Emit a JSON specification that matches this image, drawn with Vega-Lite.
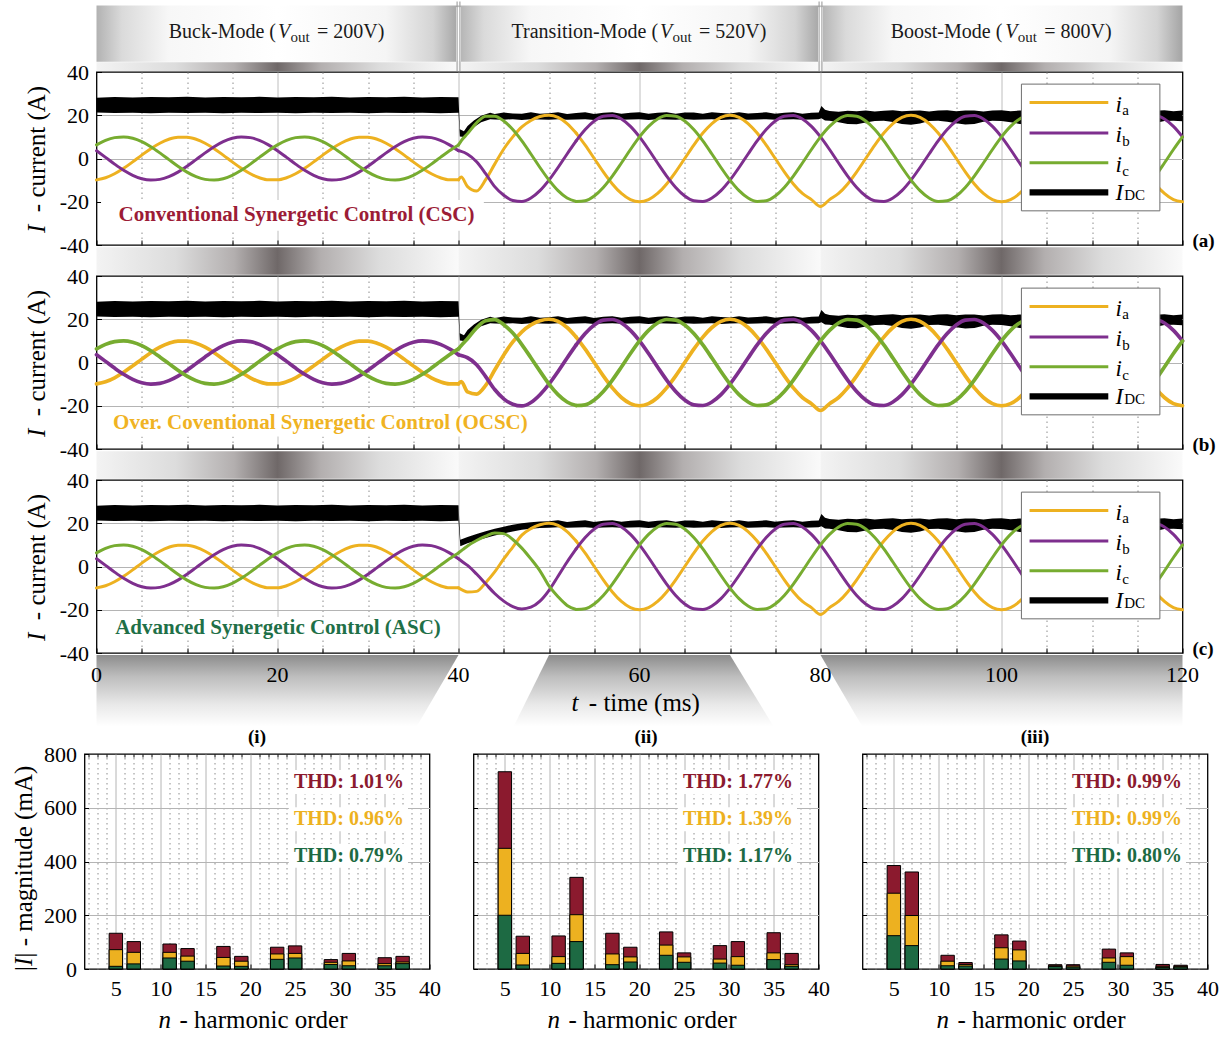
{
  "$schema": "https://vega.github.io/schema/vega-lite/v6.json",
  "background": "white",
  "padding": {"left": 11.5, "top": 0, "right": 0, "bottom": 0},
  "spacing": 0,
  "config": {
    "font": "Liberation Serif",
    "view": {"stroke": "#000", "strokeWidth": 1.3},
    "axis": {"labelFont": "Liberation Serif", "labelFontSize": 22, "labelColor": "#000", "tickColor": "#000", "tickWidth": 1, "labelFlush": false, "labelOverlap": false, "gridWidth": 1},
    "text": {"font": "Liberation Serif", "color": "#000"}
  },
  "datasets": {
    "one": [{}],
    "segs": [{"t0": 0, "t1": 40}, {"t0": 40, "t1": 80}, {"t0": 80, "t1": 120}],
    "cuts": [{"t": 40}, {"t": 80}],
    "xt": [{"t": 0}, {"t": 20}, {"t": 40}, {"t": 60}, {"t": 80}, {"t": 100}, {"t": 120}],
    "hdr": [
      {"pre": "Buck-Mode (", "suf": "= 200V)", "xp": 19.83, "xv": 20.06, "xs": 21.44, "xq": 24.36},
      {"pre": "Transition-Mode (", "suf": "= 520V)", "xp": 62.05, "xv": 62.27, "xs": 63.65, "xq": 66.57},
      {"pre": "Boost-Mode (", "suf": "= 800V)", "xp": 100.09, "xv": 100.42, "xs": 101.8, "xq": 104.73}
    ],
    "leg": [
      {"s": "a", "y": 25.9, "m": "i", "my": 21.5, "sub": "a", "sx": 113.35, "sy": 19.9},
      {"s": "b", "y": 11.8, "m": "i", "my": 7.4, "sub": "b", "sx": 113.35, "sy": 5.8},
      {"s": "c", "y": -2.0, "m": "i", "my": -6.4, "sub": "c", "sx": 113.35, "sy": -8.0},
      {"s": "DC", "y": -15.7, "m": "I", "my": -19.0, "sub": "DC", "sx": 113.55, "sy": -19.4}
    ],
    "zoomPoly": [
      {"g": 1, "y": -40.9, "x0": 0, "x1": 40}, {"g": 1, "y": -73.9, "x0": 0, "x1": 35.4},
      {"g": 2, "y": -40.9, "x0": 50, "x1": 70}, {"g": 2, "y": -73.9, "x0": 46.1, "x1": 74.8},
      {"g": 3, "y": -40.9, "x0": 80, "x1": 120}, {"g": 3, "y": -73.9, "x0": 84.6, "x1": 120}
    ],
    "base": [
      {"t":0,"a":-9.88,"b":3.58,"c":6.29,"g":"buck"},{"t":1,"a":-8.91,"b":0.52,"c":8.39,"g":"buck"},{"t":2,"a":-7.07,"b":-2.59,"c":9.66,"g":"buck"},{"t":3,"a":-4.54,"b":-5.45,"c":9.99,"g":"buck"},{"t":4,"a":-1.56,"b":-7.77,"c":9.34,"g":"buck"},
      {"t":5,"a":1.56,"b":-9.34,"c":7.77,"g":"buck"},{"t":6,"a":4.54,"b":-9.99,"c":5.45,"g":"buck"},{"t":7,"a":7.07,"b":-9.66,"c":2.59,"g":"buck"},{"t":8,"a":8.91,"b":-8.39,"c":-0.52,"g":"buck"},{"t":9,"a":9.88,"b":-6.29,"c":-3.58,"g":"buck"},
      {"t":10,"a":9.88,"b":-3.58,"c":-6.29,"g":"buck"},{"t":11,"a":8.91,"b":-0.52,"c":-8.39,"g":"buck"},{"t":12,"a":7.07,"b":2.59,"c":-9.66,"g":"buck"},{"t":13,"a":4.54,"b":5.45,"c":-9.99,"g":"buck"},{"t":14,"a":1.56,"b":7.77,"c":-9.34,"g":"buck"},
      {"t":15,"a":-1.56,"b":9.34,"c":-7.77,"g":"buck"},{"t":16,"a":-4.54,"b":9.99,"c":-5.45,"g":"buck"},{"t":17,"a":-7.07,"b":9.66,"c":-2.59,"g":"buck"},{"t":18,"a":-8.91,"b":8.39,"c":0.52,"g":"buck"},{"t":19,"a":-9.88,"b":6.29,"c":3.58,"g":"buck"},
      {"t":20,"a":-9.88,"b":3.58,"c":6.29,"g":"buck"},{"t":21,"a":-8.91,"b":0.52,"c":8.39,"g":"buck"},{"t":22,"a":-7.07,"b":-2.59,"c":9.66,"g":"buck"},{"t":23,"a":-4.54,"b":-5.45,"c":9.99,"g":"buck"},{"t":24,"a":-1.56,"b":-7.77,"c":9.34,"g":"buck"},
      {"t":25,"a":1.56,"b":-9.34,"c":7.77,"g":"buck"},{"t":26,"a":4.54,"b":-9.99,"c":5.45,"g":"buck"},{"t":27,"a":7.07,"b":-9.66,"c":2.59,"g":"buck"},{"t":28,"a":8.91,"b":-8.39,"c":-0.52,"g":"buck"},{"t":29,"a":9.88,"b":-6.29,"c":-3.58,"g":"buck"},
      {"t":30,"a":9.88,"b":-3.58,"c":-6.29,"g":"buck"},{"t":31,"a":8.91,"b":-0.52,"c":-8.39,"g":"buck"},{"t":32,"a":7.07,"b":2.59,"c":-9.66,"g":"buck"},{"t":33,"a":4.54,"b":5.45,"c":-9.99,"g":"buck"},{"t":34,"a":1.56,"b":7.77,"c":-9.34,"g":"buck"},
      {"t":35,"a":-1.56,"b":9.34,"c":-7.77,"g":"buck"},{"t":36,"a":-4.54,"b":9.99,"c":-5.45,"g":"buck"},{"t":37,"a":-7.07,"b":9.66,"c":-2.59,"g":"buck"},{"t":38,"a":-8.91,"b":8.39,"c":0.52,"g":"buck"},{"t":39,"a":-9.88,"b":6.29,"c":3.58,"g":"buck"},
      {"t":40,"a":-9.88,"b":3.58,"c":6.29,"g":"buck"},
      {"t":53,"a":11.76,"b":8.13,"c":-19.89,"g":"st"},{"t":54,"a":6.18,"b":13.38,"c":-19.56,"g":"st"},
      {"t":55,"a":0,"b":17.32,"c":-17.32,"g":"st"},{"t":56,"a":-6.18,"b":19.56,"c":-13.38,"g":"st"},{"t":57,"a":-11.76,"b":19.89,"c":-8.13,"g":"st"},{"t":58,"a":-16.18,"b":18.27,"c":-2.09,"g":"st"},{"t":59,"a":-19.02,"b":14.86,"c":4.16,"g":"st"},
      {"t":60,"a":-20,"b":10,"c":10,"g":"st"},{"t":61,"a":-19.02,"b":4.16,"c":14.86,"g":"st"},{"t":62,"a":-16.18,"b":-2.09,"c":18.27,"g":"st"},{"t":63,"a":-11.76,"b":-8.13,"c":19.89,"g":"st"},{"t":64,"a":-6.18,"b":-13.38,"c":19.56,"g":"st"},
      {"t":65,"a":0,"b":-17.32,"c":17.32,"g":"st"},{"t":66,"a":6.18,"b":-19.56,"c":13.38,"g":"st"},{"t":67,"a":11.76,"b":-19.89,"c":8.13,"g":"st"},{"t":68,"a":16.18,"b":-18.27,"c":2.09,"g":"st"},{"t":69,"a":19.02,"b":-14.86,"c":-4.16,"g":"st"},
      {"t":70,"a":20,"b":-10,"c":-10,"g":"st"},{"t":71,"a":19.02,"b":-4.16,"c":-14.86,"g":"st"},{"t":72,"a":16.18,"b":2.09,"c":-18.27,"g":"st"},{"t":73,"a":11.76,"b":8.13,"c":-19.89,"g":"st"},{"t":74,"a":6.18,"b":13.38,"c":-19.56,"g":"st"},
      {"t":75,"a":0,"b":17.32,"c":-17.32,"g":"st"},{"t":76,"a":-6.18,"b":19.56,"c":-13.38,"g":"st"},{"t":77,"a":-11.76,"b":19.89,"c":-8.13,"g":"st"},{"t":78,"a":-16.18,"b":18.27,"c":-2.09,"g":"st"},{"t":79,"a":-19.02,"b":14.86,"c":4.16,"g":"st"},
      {"t":80,"a":-22.2,"b":10,"c":10,"g":"st"},{"t":81,"a":-19.02,"b":4.16,"c":14.86,"g":"st"},{"t":82,"a":-16.18,"b":-2.09,"c":18.27,"g":"st"},{"t":83,"a":-11.76,"b":-8.13,"c":19.89,"g":"st"},{"t":84,"a":-6.18,"b":-13.38,"c":19.56,"g":"st"},
      {"t":85,"a":0,"b":-17.32,"c":17.32,"g":"st"},{"t":86,"a":6.18,"b":-19.56,"c":13.38,"g":"st"},{"t":87,"a":11.76,"b":-19.89,"c":8.13,"g":"st"},{"t":88,"a":16.18,"b":-18.27,"c":2.09,"g":"st"},{"t":89,"a":19.02,"b":-14.86,"c":-4.16,"g":"st"},
      {"t":90,"a":20,"b":-10,"c":-10,"g":"st"},{"t":91,"a":19.02,"b":-4.16,"c":-14.86,"g":"st"},{"t":92,"a":16.18,"b":2.09,"c":-18.27,"g":"st"},{"t":93,"a":11.76,"b":8.13,"c":-19.89,"g":"st"},{"t":94,"a":6.18,"b":13.38,"c":-19.56,"g":"st"},
      {"t":95,"a":0,"b":17.32,"c":-17.32,"g":"st"},{"t":96,"a":-6.18,"b":19.56,"c":-13.38,"g":"st"},{"t":97,"a":-11.76,"b":19.89,"c":-8.13,"g":"st"},{"t":98,"a":-16.18,"b":18.27,"c":-2.09,"g":"st"},{"t":99,"a":-19.02,"b":14.86,"c":4.16,"g":"st"},
      {"t":100,"a":-20,"b":10,"c":10,"g":"st"},{"t":101,"a":-19.02,"b":4.16,"c":14.86,"g":"st"},{"t":102,"a":-16.18,"b":-2.09,"c":18.27,"g":"st"},{"t":103,"a":-11.76,"b":-8.13,"c":19.89,"g":"st"},{"t":104,"a":-6.18,"b":-13.38,"c":19.56,"g":"st"},
      {"t":105,"a":0,"b":-17.32,"c":17.32,"g":"st"},{"t":106,"a":6.18,"b":-19.56,"c":13.38,"g":"st"},{"t":107,"a":11.76,"b":-19.89,"c":8.13,"g":"st"},{"t":108,"a":16.18,"b":-18.27,"c":2.09,"g":"st"},{"t":109,"a":19.02,"b":-14.86,"c":-4.16,"g":"st"},
      {"t":110,"a":20,"b":-10,"c":-10,"g":"st"},{"t":111,"a":19.02,"b":-4.16,"c":-14.86,"g":"st"},{"t":112,"a":16.18,"b":2.09,"c":-18.27,"g":"st"},{"t":113,"a":11.76,"b":8.13,"c":-19.89,"g":"st"},{"t":114,"a":6.18,"b":13.38,"c":-19.56,"g":"st"},
      {"t":115,"a":0,"b":17.32,"c":-17.32,"g":"st"},{"t":116,"a":-6.18,"b":19.56,"c":-13.38,"g":"st"},{"t":117,"a":-11.76,"b":19.89,"c":-8.13,"g":"st"},{"t":118,"a":-16.18,"b":18.27,"c":-2.09,"g":"st"},{"t":119,"a":-19.02,"b":14.86,"c":4.16,"g":"st"},
      {"t":120,"a":-20,"b":10,"c":10,"g":"st"}
    ],
    "trA": [
      {"t":40,"a":-9.88,"b":3.58,"c":6.29},{"t":40.3,"a":-8.6,"b":3.3,"c":8.2},{"t":41,"a":-13.0,"b":2.0,"c":11.5},{"t":42,"a":-15.0,"b":-1.5,"c":16.5},
      {"t":43,"a":-9.8,"b":-7.0,"c":19.5},{"t":44,"a":-2.6,"b":-13.0,"c":19.56},{"t":45,"a":4.4,"b":-17.0,"c":17.32},{"t":46,"a":10.0,"b":-19.4,"c":13.38},
      {"t":47,"a":14.6,"b":-19.9,"c":8.13},{"t":48,"a":17.6,"b":-18.27,"c":2.09},{"t":49,"a":19.4,"b":-14.86,"c":-4.16},{"t":50,"a":20,"b":-10,"c":-10},
      {"t":51,"a":19.02,"b":-4.16,"c":-14.86},{"t":52,"a":16.18,"b":2.09,"c":-18.27},{"t":53,"a":11.76,"b":8.13,"c":-19.89}
    ],
    "trB": [
      {"t":40,"a":-9.88,"b":3.58,"c":6.29},{"t":40.3,"a":-8.8,"b":3.2,"c":7.8},{"t":41,"a":-13.6,"b":2.2,"c":11.0},{"t":42,"a":-14.6,"b":-1.0,"c":16.0},
      {"t":43,"a":-10.6,"b":-6.5,"c":19.3},{"t":44,"a":-3.5,"b":-12.5,"c":19.8},{"t":45,"a":3.5,"b":-16.8,"c":17.5},{"t":46,"a":9.5,"b":-19.3,"c":13.6},
      {"t":47,"a":14.2,"b":-20.1,"c":8.3},{"t":48,"a":17.4,"b":-18.5,"c":2.2},{"t":49,"a":19.3,"b":-14.9,"c":-4.0},{"t":50,"a":20,"b":-10,"c":-10},
      {"t":51,"a":19.02,"b":-4.16,"c":-14.86},{"t":52,"a":16.18,"b":2.09,"c":-18.27},{"t":53,"a":11.76,"b":8.13,"c":-19.89}
    ],
    "trC": [
      {"t":40,"a":-9.88,"b":3.58,"c":6.29},{"t":40.5,"a":-11.0,"b":2.0,"c":7.9},{"t":41,"a":-11.8,"b":0.5,"c":9.5},{"t":42,"a":-11.5,"b":-3.5,"c":12.0},
      {"t":43,"a":-7.5,"b":-8.0,"c":14.0},{"t":44,"a":-2.5,"b":-12.5,"c":15.5},{"t":45,"a":3.5,"b":-16.0,"c":15.2},{"t":46,"a":9.0,"b":-18.5,"c":12.5},
      {"t":47,"a":14.5,"b":-19.6,"c":8.5},{"t":48,"a":17.5,"b":-18.8,"c":3.5},{"t":49,"a":19.3,"b":-16.0,"c":-2.0},{"t":50,"a":20.0,"b":-11.0,"c":-9.0},
      {"t":51,"a":19.02,"b":-4.5,"c":-14.0},{"t":52,"a":16.18,"b":2.09,"c":-18.0},{"t":53,"a":11.76,"b":8.13,"c":-19.89}
    ],
    "dcA": [
      {"t":0,"lo":21.3,"hi":28.1},{"t":2,"lo":21.0,"hi":28.4},{"t":4,"lo":21.2,"hi":28.2},{"t":6,"lo":20.9,"hi":28.4},{"t":8,"lo":21.2,"hi":28.3},
      {"t":10,"lo":21.0,"hi":28.5},{"t":12,"lo":21.1,"hi":28.2},{"t":14,"lo":20.9,"hi":28.4},{"t":16,"lo":21.2,"hi":28.3},{"t":18,"lo":21.0,"hi":28.5},
      {"t":20,"lo":21.1,"hi":28.2},{"t":22,"lo":20.9,"hi":28.4},{"t":24,"lo":21.2,"hi":28.3},{"t":26,"lo":21.0,"hi":28.5},{"t":28,"lo":21.1,"hi":28.2},
      {"t":30,"lo":20.9,"hi":28.4},{"t":32,"lo":21.2,"hi":28.3},{"t":34,"lo":21.0,"hi":28.5},{"t":36,"lo":21.1,"hi":28.2},{"t":38,"lo":20.9,"hi":28.4},
      {"t":40,"lo":21.1,"hi":28.3},{"t":40.15,"lo":10.2,"hi":13.5},{"t":40.6,"lo":10.0,"hi":12.6},{"t":41,"lo":11.8,"hi":15.0},{"t":41.7,"lo":14.5,"hi":17.6},
      {"t":42.5,"lo":16.8,"hi":19.8},{"t":43.5,"lo":18.2,"hi":21.2},{"t":44,"lo":18.0,"hi":20.6},{"t":45,"lo":17.9,"hi":21.3},{"t":46,"lo":18.2,"hi":20.8},
      {"t":47,"lo":17.8,"hi":20.7},{"t":48,"lo":18.1,"hi":21.4},{"t":49,"lo":18.0,"hi":20.7},{"t":50,"lo":17.9,"hi":20.9},{"t":51,"lo":18.2,"hi":21.4},
      {"t":52,"lo":17.9,"hi":20.6},{"t":53,"lo":18.0,"hi":21.0},{"t":54,"lo":18.2,"hi":21.4},{"t":55,"lo":17.8,"hi":20.6},{"t":56,"lo":18.0,"hi":21.1},
      {"t":57,"lo":18.2,"hi":21.4},{"t":58,"lo":17.9,"hi":20.7},{"t":59,"lo":18.0,"hi":21.2},{"t":60,"lo":18.1,"hi":21.4},{"t":61,"lo":17.8,"hi":20.7},
      {"t":62,"lo":18.1,"hi":21.2},{"t":63,"lo":18.0,"hi":21.4},{"t":64,"lo":17.9,"hi":20.7},{"t":65,"lo":18.2,"hi":21.3},{"t":66,"lo":17.9,"hi":21.3},
      {"t":67,"lo":18.0,"hi":20.7},{"t":68,"lo":18.2,"hi":21.4},{"t":69,"lo":17.8,"hi":21.0},{"t":70,"lo":18.0,"hi":20.8},{"t":71,"lo":18.1,"hi":21.4},
      {"t":72,"lo":17.9,"hi":20.8},{"t":73,"lo":18.0,"hi":21.0},{"t":74,"lo":18.2,"hi":21.4},{"t":75,"lo":17.9,"hi":20.7},{"t":76,"lo":18.0,"hi":21.1},
      {"t":77,"lo":18.1,"hi":21.4},{"t":78,"lo":17.9,"hi":20.7},{"t":79,"lo":18.0,"hi":21.2},{"t":79.8,"lo":18.1,"hi":21.3},{"t":80.1,"lo":18.6,"hi":24.3},
      {"t":80.5,"lo":17.6,"hi":22.6},{"t":81,"lo":17.4,"hi":22.0},{"t":82,"lo":16.8,"hi":21.6},{"t":83,"lo":16.0,"hi":22.1},{"t":84,"lo":15.8,"hi":21.8},
      {"t":85,"lo":16.6,"hi":22.2},{"t":86,"lo":17.3,"hi":21.7},{"t":87,"lo":17.5,"hi":22.1},{"t":88,"lo":16.9,"hi":22.3},{"t":89,"lo":16.0,"hi":21.8},
      {"t":90,"lo":15.6,"hi":22.1},{"t":91,"lo":16.2,"hi":22.2},{"t":92,"lo":17.3,"hi":21.7},{"t":93,"lo":17.5,"hi":22.2},{"t":94,"lo":17.0,"hi":22.3},
      {"t":95,"lo":16.3,"hi":21.8},{"t":96,"lo":15.7,"hi":22.2},{"t":97,"lo":15.9,"hi":22.2},{"t":98,"lo":17.0,"hi":21.7},{"t":99,"lo":17.5,"hi":22.2},
      {"t":100,"lo":17.3,"hi":22.3},{"t":101,"lo":16.8,"hi":21.8},{"t":102,"lo":16.0,"hi":22.2},{"t":103,"lo":15.7,"hi":22.1},{"t":104,"lo":16.2,"hi":21.8},
      {"t":105,"lo":17.3,"hi":22.2},{"t":106,"lo":17.5,"hi":22.3},{"t":107,"lo":17.0,"hi":21.8},{"t":108,"lo":16.2,"hi":22.2},{"t":109,"lo":15.8,"hi":22.1},
      {"t":110,"lo":15.9,"hi":21.8},{"t":111,"lo":16.8,"hi":22.3},{"t":112,"lo":17.4,"hi":22.2},{"t":113,"lo":17.3,"hi":21.7},{"t":114,"lo":16.6,"hi":22.2},
      {"t":115,"lo":15.9,"hi":22.3},{"t":116,"lo":15.7,"hi":21.8},{"t":117,"lo":16.4,"hi":22.1},{"t":118,"lo":17.3,"hi":22.3},{"t":119,"lo":17.5,"hi":21.9},
      {"t":120,"lo":17.2,"hi":22.2}
    ],
    "dcCt": [
      {"t":40,"lo":21.1,"hi":28.3},{"t":40.2,"lo":9.4,"hi":12.4},{"t":41,"lo":10.8,"hi":13.6},{"t":42,"lo":12.0,"hi":15.0},{"t":43,"lo":13.2,"hi":16.3},
      {"t":44,"lo":14.3,"hi":17.4},{"t":45,"lo":15.3,"hi":18.4},{"t":46,"lo":16.2,"hi":19.3},{"t":47,"lo":17.0,"hi":20.0},{"t":48,"lo":17.5,"hi":20.5},
      {"t":49,"lo":17.8,"hi":20.8},{"t":50,"lo":17.9,"hi":20.9}
    ],
    "bars": [
      {"p":"i","n":5,"c":"CSC","v":133},{"p":"i","n":5,"c":"OCSC","v":72},{"p":"i","n":5,"c":"ASC","v":10},
      {"p":"i","n":7,"c":"CSC","v":102},{"p":"i","n":7,"c":"OCSC","v":62},{"p":"i","n":7,"c":"ASC","v":19},
      {"p":"i","n":11,"c":"CSC","v":93},{"p":"i","n":11,"c":"OCSC","v":62},{"p":"i","n":11,"c":"ASC","v":41},
      {"p":"i","n":13,"c":"CSC","v":76},{"p":"i","n":13,"c":"OCSC","v":48},{"p":"i","n":13,"c":"ASC","v":29},
      {"p":"i","n":17,"c":"CSC","v":84},{"p":"i","n":17,"c":"OCSC","v":43},{"p":"i","n":17,"c":"ASC","v":11},
      {"p":"i","n":19,"c":"CSC","v":47},{"p":"i","n":19,"c":"OCSC","v":29},{"p":"i","n":19,"c":"ASC","v":10},
      {"p":"i","n":23,"c":"CSC","v":81},{"p":"i","n":23,"c":"OCSC","v":56},{"p":"i","n":23,"c":"ASC","v":36},
      {"p":"i","n":25,"c":"CSC","v":86},{"p":"i","n":25,"c":"OCSC","v":58},{"p":"i","n":25,"c":"ASC","v":41},
      {"p":"i","n":29,"c":"CSC","v":35},{"p":"i","n":29,"c":"OCSC","v":25},{"p":"i","n":29,"c":"ASC","v":17},
      {"p":"i","n":31,"c":"CSC","v":58},{"p":"i","n":31,"c":"OCSC","v":30},{"p":"i","n":31,"c":"ASC","v":12},
      {"p":"i","n":35,"c":"CSC","v":42},{"p":"i","n":35,"c":"OCSC","v":20},{"p":"i","n":35,"c":"ASC","v":12},
      {"p":"i","n":37,"c":"CSC","v":47},{"p":"i","n":37,"c":"OCSC","v":26},{"p":"i","n":37,"c":"ASC","v":20},
      {"p":"ii","n":5,"c":"CSC","v":734},{"p":"ii","n":5,"c":"OCSC","v":449},{"p":"ii","n":5,"c":"ASC","v":200},
      {"p":"ii","n":7,"c":"CSC","v":122},{"p":"ii","n":7,"c":"OCSC","v":58},{"p":"ii","n":7,"c":"ASC","v":15},
      {"p":"ii","n":11,"c":"CSC","v":123},{"p":"ii","n":11,"c":"OCSC","v":46},{"p":"ii","n":11,"c":"ASC","v":21},
      {"p":"ii","n":13,"c":"CSC","v":341},{"p":"ii","n":13,"c":"OCSC","v":202},{"p":"ii","n":13,"c":"ASC","v":102},
      {"p":"ii","n":17,"c":"CSC","v":133},{"p":"ii","n":17,"c":"OCSC","v":56},{"p":"ii","n":17,"c":"ASC","v":16},
      {"p":"ii","n":19,"c":"CSC","v":81},{"p":"ii","n":19,"c":"OCSC","v":45},{"p":"ii","n":19,"c":"ASC","v":26},
      {"p":"ii","n":23,"c":"CSC","v":138},{"p":"ii","n":23,"c":"OCSC","v":89},{"p":"ii","n":23,"c":"ASC","v":51},
      {"p":"ii","n":25,"c":"CSC","v":60},{"p":"ii","n":25,"c":"OCSC","v":45},{"p":"ii","n":25,"c":"ASC","v":25},
      {"p":"ii","n":29,"c":"CSC","v":87},{"p":"ii","n":29,"c":"OCSC","v":37},{"p":"ii","n":29,"c":"ASC","v":22},
      {"p":"ii","n":31,"c":"CSC","v":102},{"p":"ii","n":31,"c":"OCSC","v":46},{"p":"ii","n":31,"c":"ASC","v":14},
      {"p":"ii","n":35,"c":"CSC","v":135},{"p":"ii","n":35,"c":"OCSC","v":60},{"p":"ii","n":35,"c":"ASC","v":35},
      {"p":"ii","n":37,"c":"CSC","v":58},{"p":"ii","n":37,"c":"OCSC","v":16},{"p":"ii","n":37,"c":"ASC","v":10},
      {"p":"iii","n":5,"c":"CSC","v":385},{"p":"iii","n":5,"c":"OCSC","v":282},{"p":"iii","n":5,"c":"ASC","v":124},
      {"p":"iii","n":7,"c":"CSC","v":361},{"p":"iii","n":7,"c":"OCSC","v":199},{"p":"iii","n":7,"c":"ASC","v":87},
      {"p":"iii","n":11,"c":"CSC","v":51},{"p":"iii","n":11,"c":"OCSC","v":29},{"p":"iii","n":11,"c":"ASC","v":12},
      {"p":"iii","n":13,"c":"CSC","v":24},{"p":"iii","n":13,"c":"OCSC","v":17},{"p":"iii","n":13,"c":"ASC","v":11},
      {"p":"iii","n":17,"c":"CSC","v":127},{"p":"iii","n":17,"c":"OCSC","v":79},{"p":"iii","n":17,"c":"ASC","v":37},
      {"p":"iii","n":19,"c":"CSC","v":104},{"p":"iii","n":19,"c":"OCSC","v":71},{"p":"iii","n":19,"c":"ASC","v":30},
      {"p":"iii","n":23,"c":"CSC","v":16},{"p":"iii","n":23,"c":"OCSC","v":12},{"p":"iii","n":23,"c":"ASC","v":9},
      {"p":"iii","n":25,"c":"CSC","v":16},{"p":"iii","n":25,"c":"OCSC","v":11},{"p":"iii","n":25,"c":"ASC","v":7},
      {"p":"iii","n":29,"c":"CSC","v":74},{"p":"iii","n":29,"c":"OCSC","v":41},{"p":"iii","n":29,"c":"ASC","v":25},
      {"p":"iii","n":31,"c":"CSC","v":60},{"p":"iii","n":31,"c":"OCSC","v":46},{"p":"iii","n":31,"c":"ASC","v":14},
      {"p":"iii","n":35,"c":"CSC","v":17},{"p":"iii","n":35,"c":"OCSC","v":10},{"p":"iii","n":35,"c":"ASC","v":6},
      {"p":"iii","n":37,"c":"CSC","v":14},{"p":"iii","n":37,"c":"OCSC","v":10},{"p":"iii","n":37,"c":"ASC","v":7}
    ],
    "thd": [
      {"p":"i","c":"CSC","label":"THD: 1.01%","y":696},{"p":"i","c":"OCSC","label":"THD: 0.96%","y":557.6},{"p":"i","c":"ASC","label":"THD: 0.79%","y":421},
      {"p":"ii","c":"CSC","label":"THD: 1.77%","y":696},{"p":"ii","c":"OCSC","label":"THD: 1.39%","y":557.6},{"p":"ii","c":"ASC","label":"THD: 1.17%","y":421},
      {"p":"iii","c":"CSC","label":"THD: 0.99%","y":696},{"p":"iii","c":"OCSC","label":"THD: 0.99%","y":557.6},{"p":"iii","c":"ASC","label":"THD: 0.80%","y":421}
    ]
  },
  "vconcat": [
    {
      "bounds": "flush",
      "spacing": 0,
      "hconcat": [
        {"width": 12, "height": 10, "data": {"name": "one"}, "mark": {"type": "point", "opacity": 0}, "view": {"stroke": null}},
        {
          "bounds": "flush",
          "spacing": 31,
          "vconcat": [
            {
              "width": 1086, "height": 173,
              "layer": [
                {"data": {"name": "segs"}, "mark": {"type": "rect", "fill": {"gradient": "linear", "x1": 0, "y1": 0, "x2": 1, "y2": 0, "stops": [{"offset": 0, "color": "#b2b2b2"}, {"offset": 0.07, "color": "#dadada"}, {"offset": 0.2, "color": "#f7f7f7"}, {"offset": 0.5, "color": "#ffffff"}, {"offset": 0.8, "color": "#f5f5f5"}, {"offset": 0.93, "color": "#d4d4d4"}, {"offset": 1, "color": "#a4a4a4"}]}},
                 "encoding": {"x": {"field": "t0", "type": "quantitative"}, "x2": {"field": "t1"}, "y": {"datum": 70.7}, "y2": {"datum": 44.7}}},
                {"data": {"name": "segs"}, "mark": {"type": "rect", "fill": {"gradient": "linear", "x1": 0, "y1": 0, "x2": 1, "y2": 0, "stops": [{"offset": 0, "color": "#f3f3f3"}, {"offset": 0.22, "color": "#dcdcdc"}, {"offset": 0.38, "color": "#b3afaf"}, {"offset": 0.5, "color": "#6f6868"}, {"offset": 0.62, "color": "#b3afaf"}, {"offset": 0.78, "color": "#dcdcdc"}, {"offset": 1, "color": "#fafafa"}]}},
                 "encoding": {"x": {"field": "t0", "type": "quantitative"}, "x2": {"field": "t1"}, "y": {"datum": 44.5}, "y2": {"datum": 40.5}}},
                {"data": {"name": "segs"}, "mark": {"type": "rect", "fill": {"gradient": "linear", "x1": 0, "y1": 0, "x2": 1, "y2": 0, "stops": [{"offset": 0, "color": "#f3f3f3"}, {"offset": 0.22, "color": "#dcdcdc"}, {"offset": 0.38, "color": "#b3afaf"}, {"offset": 0.5, "color": "#6f6868"}, {"offset": 0.62, "color": "#b3afaf"}, {"offset": 0.78, "color": "#dcdcdc"}, {"offset": 1, "color": "#fafafa"}]}},
                 "encoding": {"x": {"field": "t0", "type": "quantitative"}, "x2": {"field": "t1"}, "y": {"datum": -41}, "y2": {"datum": -53.8}}},
                {"data": {"name": "cuts"}, "mark": {"type": "rule", "color": "white", "strokeWidth": 5},
                 "encoding": {"x": {"field": "t", "type": "quantitative"}, "y": {"datum": 70.0}, "y2": {"datum": 44.7}}},
                {"data": {"name": "cuts"}, "mark": {"type": "rule", "color": "#a6a6a6", "strokeWidth": 1.2, "xOffset": -1.4},
                 "encoding": {"x": {"field": "t", "type": "quantitative"}, "y": {"datum": 72.6}, "y2": {"datum": 40.5}}},
                {"data": {"name": "cuts"}, "mark": {"type": "rule", "color": "#a6a6a6", "strokeWidth": 1.2, "xOffset": 1.4},
                 "encoding": {"x": {"field": "t", "type": "quantitative"}, "y": {"datum": 72.6}, "y2": {"datum": 40.5}}},
                {"data": {"name": "hdr"}, "mark": {"type": "text", "align": "right", "baseline": "alphabetic", "fontSize": 20, "color": "#1a1a1a"},
                 "encoding": {"x": {"field": "xp", "type": "quantitative"}, "y": {"datum": 55.7}, "text": {"field": "pre"}}},
                {"data": {"name": "hdr"}, "mark": {"type": "text", "align": "left", "baseline": "alphabetic", "fontSize": 20, "fontStyle": "italic", "color": "#1a1a1a", "text": "V"},
                 "encoding": {"x": {"field": "xv", "type": "quantitative"}, "y": {"datum": 55.7}}},
                {"data": {"name": "hdr"}, "mark": {"type": "text", "align": "left", "baseline": "alphabetic", "fontSize": 15, "color": "#1a1a1a", "text": "out"},
                 "encoding": {"x": {"field": "xs", "type": "quantitative"}, "y": {"datum": 54.1}}},
                {"data": {"name": "hdr"}, "mark": {"type": "text", "align": "left", "baseline": "alphabetic", "fontSize": 20, "color": "#1a1a1a"},
                 "encoding": {"x": {"field": "xq", "type": "quantitative"}, "y": {"datum": 55.7}, "text": {"field": "suf"}}},
                {"data": {"name": "one"}, "mark": {"type": "rect", "fill": "white"},
                 "encoding": {"x": {"datum": 0.5}, "x2": {"datum": 42.8}, "y": {"datum": -19.2}, "y2": {"datum": -33.4}}},
                {"data": {"name": "one"}, "mark": {"type": "text", "text": "Conventional Synergetic Control (CSC)", "align": "left", "baseline": "middle", "fontSize": 21, "fontWeight": "bold", "color": "#9C1C36"},
                 "encoding": {"x": {"datum": 2.43}, "y": {"datum": -26.3}}},
                {"data": {"name": "dcA"}, "mark": {"type": "area", "color": "#000"},
                 "encoding": {
                   "x": {"field": "t", "type": "quantitative", "scale": {"domain": [0, 120], "nice": false, "zero": false},
                         "axis": {"values": [0,5,10,15,20,25,30,35,40,45,50,55,60,65,70,75,80,85,90,95,100,105,110,115,120], "labels": false, "title": null, "domain": false, "grid": true, "tickSize": -5, "labelOverlap": false,
                                  "gridColor": {"condition": {"test": "datum.value % 20 === 0", "value": "#b4b4b4"}, "value": "#8c8c8c"},
                                  "gridDash": {"condition": {"test": "datum.value % 20 === 0", "value": [1, 0]}, "value": [1.5, 3.5]},
                                  "gridOpacity": {"condition": {"test": "datum.value === 0 || datum.value === 120", "value": 0}, "value": 1}}},
                   "y": {"field": "lo", "type": "quantitative", "scale": {"domain": [-40, 40], "nice": false, "zero": false},
                         "axis": {"values": [-40,-35,-30,-25,-20,-15,-10,-5,0,5,10,15,20,25,30,35,40], "labelExpr": "datum.value % 20 === 0 ? '' + datum.value : ''", "labelPadding": 13, "labelOverlap": false, "title": null, "domain": false, "grid": true, "tickSize": -5,
                                  "gridColor": {"condition": {"test": "datum.value % 20 === 0", "value": "#b4b4b4"}, "value": "#8c8c8c"},
                                  "gridDash": {"condition": {"test": "datum.value % 20 === 0", "value": [1, 0]}, "value": [1.5, 3.5]},
                                  "gridOpacity": {"condition": {"test": "abs(datum.value) === 40", "value": 0}, "value": 1}}},
                   "y2": {"field": "hi"}}},
                {"data": {"name": "base"}, "transform": [{"fold": ["a", "b", "c"], "as": ["s", "v"]}],
                 "mark": {"type": "line", "interpolate": "monotone", "strokeWidth": 3, "strokeJoin": "round", "strokeCap": "round"},
                 "encoding": {"x": {"field": "t", "type": "quantitative"}, "y": {"field": "v", "type": "quantitative"},
                   "color": {"field": "s", "type": "nominal", "scale": {"domain": ["a","b","c","DC","CSC","OCSC","ASC"], "range": ["#EDB120","#7E2F8E","#77AC30","#000000","#8B1A2E","#EDB120","#1D6A43"]}, "legend": null},
                   "detail": {"field": "g"}}},
                {"data": {"name": "trA"}, "transform": [{"fold": ["a", "b", "c"], "as": ["s", "v"]}],
                 "mark": {"type": "line", "interpolate": "monotone", "strokeWidth": 3, "strokeJoin": "round", "strokeCap": "round"},
                 "encoding": {"x": {"field": "t", "type": "quantitative"}, "y": {"field": "v", "type": "quantitative"},
                   "color": {"field": "s", "type": "nominal", "scale": {"domain": ["a","b","c","DC","CSC","OCSC","ASC"], "range": ["#EDB120","#7E2F8E","#77AC30","#000000","#8B1A2E","#EDB120","#1D6A43"]}, "legend": null}}},
                {"data": {"name": "one"}, "mark": {"type": "rect", "fill": "white", "stroke": "#6e6e6e", "strokeWidth": 1},
                 "encoding": {"x": {"datum": 102.2}, "x2": {"datum": 117.5}, "y": {"datum": 34.4}, "y2": {"datum": -24.2}}},
                {"data": {"name": "leg"}, "transform": [{"filter": "datum.s !== 'DC'"}], "mark": {"type": "rule", "strokeWidth": 3},
                 "encoding": {"x": {"datum": 103.1}, "x2": {"datum": 111.8}, "y": {"field": "y", "type": "quantitative"},
                   "color": {"field": "s", "type": "nominal", "scale": {"domain": ["a","b","c","DC","CSC","OCSC","ASC"], "range": ["#EDB120","#7E2F8E","#77AC30","#000000","#8B1A2E","#EDB120","#1D6A43"]}, "legend": null}}},
                {"data": {"name": "leg"}, "transform": [{"filter": "datum.s === 'DC'"}], "mark": {"type": "rule", "strokeWidth": 6.3, "color": "#000"},
                 "encoding": {"x": {"datum": 103.1}, "x2": {"datum": 111.8}, "y": {"field": "y", "type": "quantitative"}}},
                {"data": {"name": "leg"}, "mark": {"type": "text", "align": "left", "baseline": "alphabetic", "fontSize": 23, "fontStyle": "italic"},
                 "encoding": {"x": {"datum": 112.6}, "y": {"field": "my", "type": "quantitative"}, "text": {"field": "m"}}},
                {"data": {"name": "leg"}, "mark": {"type": "text", "align": "left", "baseline": "alphabetic", "fontSize": 15},
                 "encoding": {"x": {"field": "sx", "type": "quantitative"}, "y": {"field": "sy", "type": "quantitative"}, "text": {"field": "sub"}}},
                {"data": {"name": "one"}, "mark": {"type": "text", "text": "(a)", "align": "left", "baseline": "middle", "fontSize": 19, "fontWeight": "bold"},
                 "encoding": {"x": {"datum": 121.1}, "y": {"datum": -38.1}}},
                {"data": {"name": "one"}, "mark": {"type": "text", "text": "I", "angle": 270, "align": "left", "baseline": "middle", "fontSize": 25, "fontStyle": "italic"},
                 "encoding": {"x": {"datum": -6.52}, "y": {"datum": -34.5}}},
                {"data": {"name": "one"}, "mark": {"type": "text", "text": "- current (A)", "angle": 270, "align": "left", "baseline": "middle", "fontSize": 25},
                 "encoding": {"x": {"datum": -6.52}, "y": {"datum": -24.8}}}
              ]
            },
            {
              "width": 1086, "height": 173,
              "layer": [
                {"data": {"name": "segs"}, "mark": {"type": "rect", "fill": {"gradient": "linear", "x1": 0, "y1": 0, "x2": 1, "y2": 0, "stops": [{"offset": 0, "color": "#f3f3f3"}, {"offset": 0.22, "color": "#dcdcdc"}, {"offset": 0.38, "color": "#b3afaf"}, {"offset": 0.5, "color": "#6f6868"}, {"offset": 0.62, "color": "#b3afaf"}, {"offset": 0.78, "color": "#dcdcdc"}, {"offset": 1, "color": "#fafafa"}]}},
                 "encoding": {"x": {"field": "t0", "type": "quantitative"}, "x2": {"field": "t1"}, "y": {"datum": -41}, "y2": {"datum": -53.8}}},
                {"data": {"name": "one"}, "mark": {"type": "rect", "fill": "white"},
                 "encoding": {"x": {"datum": 0.35}, "x2": {"datum": 49.1}, "y": {"datum": -21.2}, "y2": {"datum": -34.2}}},
                {"data": {"name": "one"}, "mark": {"type": "text", "text": "Over. Coventional Synergetic Control (OCSC)", "align": "left", "baseline": "middle", "fontSize": 21, "fontWeight": "bold", "color": "#F0B323"},
                 "encoding": {"x": {"datum": 1.83}, "y": {"datum": -27.8}}},
                {"data": {"name": "dcA"}, "mark": {"type": "area", "color": "#000"},
                 "encoding": {
                   "x": {"field": "t", "type": "quantitative", "scale": {"domain": [0, 120], "nice": false, "zero": false},
                         "axis": {"values": [0,5,10,15,20,25,30,35,40,45,50,55,60,65,70,75,80,85,90,95,100,105,110,115,120], "labels": false, "title": null, "domain": false, "grid": true, "tickSize": -5, "labelOverlap": false,
                                  "gridColor": {"condition": {"test": "datum.value % 20 === 0", "value": "#b4b4b4"}, "value": "#8c8c8c"},
                                  "gridDash": {"condition": {"test": "datum.value % 20 === 0", "value": [1, 0]}, "value": [1.5, 3.5]},
                                  "gridOpacity": {"condition": {"test": "datum.value === 0 || datum.value === 120", "value": 0}, "value": 1}}},
                   "y": {"field": "lo", "type": "quantitative", "scale": {"domain": [-40, 40], "nice": false, "zero": false},
                         "axis": {"values": [-40,-35,-30,-25,-20,-15,-10,-5,0,5,10,15,20,25,30,35,40], "labelExpr": "datum.value % 20 === 0 ? '' + datum.value : ''", "labelPadding": 13, "labelOverlap": false, "title": null, "domain": false, "grid": true, "tickSize": -5,
                                  "gridColor": {"condition": {"test": "datum.value % 20 === 0", "value": "#b4b4b4"}, "value": "#8c8c8c"},
                                  "gridDash": {"condition": {"test": "datum.value % 20 === 0", "value": [1, 0]}, "value": [1.5, 3.5]},
                                  "gridOpacity": {"condition": {"test": "abs(datum.value) === 40", "value": 0}, "value": 1}}},
                   "y2": {"field": "hi"}}},
                {"data": {"name": "base"}, "transform": [{"fold": ["a", "b", "c"], "as": ["s", "v"]}],
                 "mark": {"type": "line", "interpolate": "monotone", "strokeWidth": 3.7, "strokeJoin": "round", "strokeCap": "round"},
                 "encoding": {"x": {"field": "t", "type": "quantitative"}, "y": {"field": "v", "type": "quantitative"},
                   "color": {"field": "s", "type": "nominal", "scale": {"domain": ["a","b","c","DC","CSC","OCSC","ASC"], "range": ["#EDB120","#7E2F8E","#77AC30","#000000","#8B1A2E","#EDB120","#1D6A43"]}, "legend": null},
                   "detail": {"field": "g"}}},
                {"data": {"name": "trB"}, "transform": [{"fold": ["a", "b", "c"], "as": ["s", "v"]}],
                 "mark": {"type": "line", "interpolate": "monotone", "strokeWidth": 3.7, "strokeJoin": "round", "strokeCap": "round"},
                 "encoding": {"x": {"field": "t", "type": "quantitative"}, "y": {"field": "v", "type": "quantitative"},
                   "color": {"field": "s", "type": "nominal", "scale": {"domain": ["a","b","c","DC","CSC","OCSC","ASC"], "range": ["#EDB120","#7E2F8E","#77AC30","#000000","#8B1A2E","#EDB120","#1D6A43"]}, "legend": null}}},
                {"data": {"name": "one"}, "mark": {"type": "rect", "fill": "white", "stroke": "#6e6e6e", "strokeWidth": 1},
                 "encoding": {"x": {"datum": 102.2}, "x2": {"datum": 117.5}, "y": {"datum": 34.4}, "y2": {"datum": -24.2}}},
                {"data": {"name": "leg"}, "transform": [{"filter": "datum.s !== 'DC'"}], "mark": {"type": "rule", "strokeWidth": 3},
                 "encoding": {"x": {"datum": 103.1}, "x2": {"datum": 111.8}, "y": {"field": "y", "type": "quantitative"},
                   "color": {"field": "s", "type": "nominal", "scale": {"domain": ["a","b","c","DC","CSC","OCSC","ASC"], "range": ["#EDB120","#7E2F8E","#77AC30","#000000","#8B1A2E","#EDB120","#1D6A43"]}, "legend": null}}},
                {"data": {"name": "leg"}, "transform": [{"filter": "datum.s === 'DC'"}], "mark": {"type": "rule", "strokeWidth": 6.3, "color": "#000"},
                 "encoding": {"x": {"datum": 103.1}, "x2": {"datum": 111.8}, "y": {"field": "y", "type": "quantitative"}}},
                {"data": {"name": "leg"}, "mark": {"type": "text", "align": "left", "baseline": "alphabetic", "fontSize": 23, "fontStyle": "italic"},
                 "encoding": {"x": {"datum": 112.6}, "y": {"field": "my", "type": "quantitative"}, "text": {"field": "m"}}},
                {"data": {"name": "leg"}, "mark": {"type": "text", "align": "left", "baseline": "alphabetic", "fontSize": 15},
                 "encoding": {"x": {"field": "sx", "type": "quantitative"}, "y": {"field": "sy", "type": "quantitative"}, "text": {"field": "sub"}}},
                {"data": {"name": "one"}, "mark": {"type": "text", "text": "(b)", "align": "left", "baseline": "middle", "fontSize": 19, "fontWeight": "bold"},
                 "encoding": {"x": {"datum": 121.1}, "y": {"datum": -38.1}}},
                {"data": {"name": "one"}, "mark": {"type": "text", "text": "I", "angle": 270, "align": "left", "baseline": "middle", "fontSize": 25, "fontStyle": "italic"},
                 "encoding": {"x": {"datum": -6.52}, "y": {"datum": -34.5}}},
                {"data": {"name": "one"}, "mark": {"type": "text", "text": "- current (A)", "angle": 270, "align": "left", "baseline": "middle", "fontSize": 25},
                 "encoding": {"x": {"datum": -6.52}, "y": {"datum": -24.8}}}
              ]
            },
            {
              "width": 1086, "height": 173,
              "layer": [
                {"data": {"name": "zoomPoly"}, "mark": {"type": "area", "orient": "horizontal", "fill": {"gradient": "linear", "x1": 0, "y1": 0, "x2": 0, "y2": 1, "stops": [{"offset": 0, "color": "#8c8c8c"}, {"offset": 0.3, "color": "#bdbdbd"}, {"offset": 0.7, "color": "#e9e9e9"}, {"offset": 1, "color": "#ffffff"}]}},
                 "encoding": {"y": {"field": "y", "type": "quantitative"}, "x": {"field": "x0", "type": "quantitative", "stack": null}, "x2": {"field": "x1"}, "detail": {"field": "g"}}},
                {"data": {"name": "xt"}, "mark": {"type": "text", "align": "center", "baseline": "middle", "fontSize": 22},
                 "encoding": {"x": {"field": "t", "type": "quantitative"}, "y": {"datum": -50}, "text": {"field": "t", "type": "quantitative"}}},
                {"data": {"name": "one"}, "mark": {"type": "text", "text": "t", "align": "left", "baseline": "middle", "fontSize": 25, "fontStyle": "italic"},
                 "encoding": {"x": {"datum": 52.49}, "y": {"datum": -63.3}}},
                {"data": {"name": "one"}, "mark": {"type": "text", "text": "- time (ms)", "align": "left", "baseline": "middle", "fontSize": 25},
                 "encoding": {"x": {"datum": 54.4}, "y": {"datum": -63.3}}},
                {"data": {"name": "one"}, "mark": {"type": "rect", "fill": "white"},
                 "encoding": {"x": {"datum": 0.35}, "x2": {"datum": 39.2}, "y": {"datum": -23.4}, "y2": {"datum": -33.8}}},
                {"data": {"name": "one"}, "mark": {"type": "text", "text": "Advanced Synergetic Control (ASC)", "align": "left", "baseline": "middle", "fontSize": 21, "fontWeight": "bold", "color": "#1F7048"},
                 "encoding": {"x": {"datum": 2.06}, "y": {"datum": -28.4}}},
                {"data": {"name": "dcA"}, "transform": [{"filter": "datum.t <= 40"}], "mark": {"type": "area", "color": "#000"},
                 "encoding": {
                   "x": {"field": "t", "type": "quantitative", "scale": {"domain": [0, 120], "nice": false, "zero": false},
                         "axis": {"values": [0,5,10,15,20,25,30,35,40,45,50,55,60,65,70,75,80,85,90,95,100,105,110,115,120], "labels": false, "title": null, "domain": false, "grid": true, "tickSize": -5, "labelOverlap": false,
                                  "gridColor": {"condition": {"test": "datum.value % 20 === 0", "value": "#b4b4b4"}, "value": "#8c8c8c"},
                                  "gridDash": {"condition": {"test": "datum.value % 20 === 0", "value": [1, 0]}, "value": [1.5, 3.5]},
                                  "gridOpacity": {"condition": {"test": "datum.value === 0 || datum.value === 120", "value": 0}, "value": 1}}},
                   "y": {"field": "lo", "type": "quantitative", "scale": {"domain": [-40, 40], "nice": false, "zero": false},
                         "axis": {"values": [-40,-35,-30,-25,-20,-15,-10,-5,0,5,10,15,20,25,30,35,40], "labelExpr": "datum.value % 20 === 0 ? '' + datum.value : ''", "labelPadding": 13, "labelOverlap": false, "title": null, "domain": false, "grid": true, "tickSize": -5,
                                  "gridColor": {"condition": {"test": "datum.value % 20 === 0", "value": "#b4b4b4"}, "value": "#8c8c8c"},
                                  "gridDash": {"condition": {"test": "datum.value % 20 === 0", "value": [1, 0]}, "value": [1.5, 3.5]},
                                  "gridOpacity": {"condition": {"test": "abs(datum.value) === 40", "value": 0}, "value": 1}}},
                   "y2": {"field": "hi"}}},
                {"data": {"name": "dcCt"}, "mark": {"type": "area", "color": "#000"},
                 "encoding": {"x": {"field": "t", "type": "quantitative"}, "y": {"field": "lo", "type": "quantitative"}, "y2": {"field": "hi"}}},
                {"data": {"name": "dcA"}, "transform": [{"filter": "datum.t >= 50"}], "mark": {"type": "area", "color": "#000"},
                 "encoding": {"x": {"field": "t", "type": "quantitative"}, "y": {"field": "lo", "type": "quantitative"}, "y2": {"field": "hi"}}},
                {"data": {"name": "base"}, "transform": [{"fold": ["a", "b", "c"], "as": ["s", "v"]}],
                 "mark": {"type": "line", "interpolate": "monotone", "strokeWidth": 3, "strokeJoin": "round", "strokeCap": "round"},
                 "encoding": {"x": {"field": "t", "type": "quantitative"}, "y": {"field": "v", "type": "quantitative"},
                   "color": {"field": "s", "type": "nominal", "scale": {"domain": ["a","b","c","DC","CSC","OCSC","ASC"], "range": ["#EDB120","#7E2F8E","#77AC30","#000000","#8B1A2E","#EDB120","#1D6A43"]}, "legend": null},
                   "detail": {"field": "g"}}},
                {"data": {"name": "trC"}, "transform": [{"fold": ["a", "b", "c"], "as": ["s", "v"]}],
                 "mark": {"type": "line", "interpolate": "monotone", "strokeWidth": 3, "strokeJoin": "round", "strokeCap": "round"},
                 "encoding": {"x": {"field": "t", "type": "quantitative"}, "y": {"field": "v", "type": "quantitative"},
                   "color": {"field": "s", "type": "nominal", "scale": {"domain": ["a","b","c","DC","CSC","OCSC","ASC"], "range": ["#EDB120","#7E2F8E","#77AC30","#000000","#8B1A2E","#EDB120","#1D6A43"]}, "legend": null}}},
                {"data": {"name": "one"}, "mark": {"type": "rect", "fill": "white", "stroke": "#6e6e6e", "strokeWidth": 1},
                 "encoding": {"x": {"datum": 102.2}, "x2": {"datum": 117.5}, "y": {"datum": 34.4}, "y2": {"datum": -24.2}}},
                {"data": {"name": "leg"}, "transform": [{"filter": "datum.s !== 'DC'"}], "mark": {"type": "rule", "strokeWidth": 3},
                 "encoding": {"x": {"datum": 103.1}, "x2": {"datum": 111.8}, "y": {"field": "y", "type": "quantitative"},
                   "color": {"field": "s", "type": "nominal", "scale": {"domain": ["a","b","c","DC","CSC","OCSC","ASC"], "range": ["#EDB120","#7E2F8E","#77AC30","#000000","#8B1A2E","#EDB120","#1D6A43"]}, "legend": null}}},
                {"data": {"name": "leg"}, "transform": [{"filter": "datum.s === 'DC'"}], "mark": {"type": "rule", "strokeWidth": 6.3, "color": "#000"},
                 "encoding": {"x": {"datum": 103.1}, "x2": {"datum": 111.8}, "y": {"field": "y", "type": "quantitative"}}},
                {"data": {"name": "leg"}, "mark": {"type": "text", "align": "left", "baseline": "alphabetic", "fontSize": 23, "fontStyle": "italic"},
                 "encoding": {"x": {"datum": 112.6}, "y": {"field": "my", "type": "quantitative"}, "text": {"field": "m"}}},
                {"data": {"name": "leg"}, "mark": {"type": "text", "align": "left", "baseline": "alphabetic", "fontSize": 15},
                 "encoding": {"x": {"field": "sx", "type": "quantitative"}, "y": {"field": "sy", "type": "quantitative"}, "text": {"field": "sub"}}},
                {"data": {"name": "one"}, "mark": {"type": "text", "text": "(c)", "align": "left", "baseline": "middle", "fontSize": 19, "fontWeight": "bold"},
                 "encoding": {"x": {"datum": 121.1}, "y": {"datum": -38.1}}},
                {"data": {"name": "one"}, "mark": {"type": "text", "text": "I", "angle": 270, "align": "left", "baseline": "middle", "fontSize": 25, "fontStyle": "italic"},
                 "encoding": {"x": {"datum": -6.52}, "y": {"datum": -34.5}}},
                {"data": {"name": "one"}, "mark": {"type": "text", "text": "- current (A)", "angle": 270, "align": "left", "baseline": "middle", "fontSize": 25},
                 "encoding": {"x": {"datum": -6.52}, "y": {"datum": -24.8}}}
              ]
            }
          ]
        }
      ]
    },
    {
      "bounds": "flush",
      "spacing": 44,
      "hconcat": [
        {
          "width": 345, "height": 215,
          "resolve": {"axis": {"x": "independent"}},
          "layer": [
            {"data": {"name": "thd"}, "transform": [{"filter": "datum.p === 'i'"}], "mark": {"type": "bar", "orient": "horizontal", "height": 24, "fill": "white"},
             "encoding": {"x": {"datum": 24.3, "axis": null}, "x2": {"datum": 37.6}, "y": {"field": "y", "type": "quantitative"}}},
            {"data": {"name": "one"}, "mark": {"type": "point", "opacity": 0},
             "encoding": {"x": {"datum": 2, "type": "quantitative",
                                "axis": {"orient": "top", "values": [2,3,4,6,7,8,9,11,12,13,14,16,17,18,19,21,22,23,24,26,27,28,29,31,32,33,34,36,37,38,39], "labels": false, "title": null, "domain": false, "grid": true, "gridDash": [1.5, 3.5], "gridColor": "#8c8c8c", "tickSize": -3}},
                          "y": {"datum": 0}}},
            {"data": {"name": "bars"}, "transform": [{"filter": "datum.p === 'i'"}], "mark": {"type": "bar", "width": 13.4, "stroke": "#000", "strokeWidth": 1},
             "encoding": {
               "x": {"field": "n", "type": "quantitative", "scale": {"domain": [1.5, 40], "nice": false, "zero": false, "padding": 0},
                     "axis": {"orient": "bottom", "values": [5,10,15,20,25,30,35,40], "labelPadding": 14, "labelOverlap": false, "title": null, "domain": false, "grid": true, "tickSize": -5, "gridColor": "#b4b4b4",
                              "gridOpacity": {"condition": {"test": "datum.value === 40", "value": 0}, "value": 1}}},
               "y": {"field": "v", "type": "quantitative", "stack": null, "scale": {"domain": [0, 800], "nice": false, "padding": 0},
                     "axis": {"values": [0,50,100,150,200,250,300,350,400,450,500,550,600,650,700,750,800], "labelExpr": "datum.value % 200 === 0 ? '' + datum.value : ''", "labelPadding": 12, "labelOverlap": false, "title": null, "domain": false, "grid": true, "tickSize": -4,
                              "gridColor": {"condition": {"test": "datum.value % 200 === 0", "value": "#b4b4b4"}, "value": "#8c8c8c"},
                              "gridDash": {"condition": {"test": "datum.value % 200 === 0", "value": [1, 0]}, "value": [1.5, 3.5]},
                              "gridOpacity": {"condition": {"test": "datum.value === 0 || datum.value === 800", "value": 0}, "value": 1}}},
               "color": {"field": "c", "type": "nominal", "scale": {"domain": ["a","b","c","DC","CSC","OCSC","ASC"], "range": ["#EDB120","#7E2F8E","#77AC30","#000000","#8B1A2E","#EDB120","#1D6A43"]}, "legend": null},
               "order": {"field": "v", "type": "quantitative", "sort": "descending"}}},
            {"data": {"name": "thd"}, "transform": [{"filter": "datum.p === 'i'"}], "mark": {"type": "text", "align": "right", "baseline": "middle", "fontSize": 20, "fontWeight": "bold"},
             "encoding": {"x": {"datum": 37.15, "axis": null}, "y": {"field": "y", "type": "quantitative"}, "text": {"field": "label"},
               "color": {"field": "c", "type": "nominal", "scale": {"domain": ["a","b","c","DC","CSC","OCSC","ASC"], "range": ["#EDB120","#7E2F8E","#77AC30","#000000","#8B1A2E","#EDB120","#1D6A43"]}, "legend": null}}},
            {"data": {"name": "one"}, "mark": {"type": "text", "text": "(i)", "align": "center", "baseline": "middle", "fontSize": 19, "fontWeight": "bold"},
             "encoding": {"x": {"datum": 20.75, "axis": null}, "y": {"datum": 863}}},
            {"data": {"name": "one"}, "mark": {"type": "text", "text": "|", "angle": 270, "align": "left", "baseline": "middle", "fontSize": 25},
             "encoding": {"x": {"datum": -5.2, "axis": null}, "y": {"datum": -7.4}}},
            {"data": {"name": "one"}, "mark": {"type": "text", "text": "I", "angle": 270, "align": "left", "baseline": "middle", "fontSize": 25, "fontStyle": "italic"},
             "encoding": {"x": {"datum": -5.2, "axis": null}, "y": {"datum": 11.2}}},
            {"data": {"name": "one"}, "mark": {"type": "text", "text": "| - magnitude (mA)", "angle": 270, "align": "left", "baseline": "middle", "fontSize": 25},
             "encoding": {"x": {"datum": -5.2, "axis": null}, "y": {"datum": 42.8}}},
            {"data": {"name": "one"}, "mark": {"type": "text", "text": "n", "align": "left", "baseline": "middle", "fontSize": 25, "fontStyle": "italic"},
             "encoding": {"x": {"datum": 9.76, "axis": null}, "y": {"datum": -189.6}}},
            {"data": {"name": "one"}, "mark": {"type": "text", "text": "- harmonic order", "align": "left", "baseline": "middle", "fontSize": 25},
             "encoding": {"x": {"datum": 12.1, "axis": null}, "y": {"datum": -189.6}}}
          ]
        },
        {
          "width": 345, "height": 215,
          "resolve": {"axis": {"x": "independent"}},
          "layer": [
            {"data": {"name": "thd"}, "transform": [{"filter": "datum.p === 'ii'"}], "mark": {"type": "bar", "orient": "horizontal", "height": 24, "fill": "white"},
             "encoding": {"x": {"datum": 24.3, "axis": null}, "x2": {"datum": 37.6}, "y": {"field": "y", "type": "quantitative"}}},
            {"data": {"name": "one"}, "mark": {"type": "point", "opacity": 0},
             "encoding": {"x": {"datum": 2, "type": "quantitative",
                                "axis": {"orient": "top", "values": [2,3,4,6,7,8,9,11,12,13,14,16,17,18,19,21,22,23,24,26,27,28,29,31,32,33,34,36,37,38,39], "labels": false, "title": null, "domain": false, "grid": true, "gridDash": [1.5, 3.5], "gridColor": "#8c8c8c", "tickSize": -3}},
                          "y": {"datum": 0}}},
            {"data": {"name": "bars"}, "transform": [{"filter": "datum.p === 'ii'"}], "mark": {"type": "bar", "width": 13.4, "stroke": "#000", "strokeWidth": 1},
             "encoding": {
               "x": {"field": "n", "type": "quantitative", "scale": {"domain": [1.5, 40], "nice": false, "zero": false, "padding": 0},
                     "axis": {"orient": "bottom", "values": [5,10,15,20,25,30,35,40], "labelPadding": 14, "labelOverlap": false, "title": null, "domain": false, "grid": true, "tickSize": -5, "gridColor": "#b4b4b4",
                              "gridOpacity": {"condition": {"test": "datum.value === 40", "value": 0}, "value": 1}}},
               "y": {"field": "v", "type": "quantitative", "stack": null, "scale": {"domain": [0, 800], "nice": false, "padding": 0},
                     "axis": {"values": [0,50,100,150,200,250,300,350,400,450,500,550,600,650,700,750,800], "labels": false, "labelOverlap": false, "title": null, "domain": false, "grid": true, "tickSize": -4,
                              "gridColor": {"condition": {"test": "datum.value % 200 === 0", "value": "#b4b4b4"}, "value": "#8c8c8c"},
                              "gridDash": {"condition": {"test": "datum.value % 200 === 0", "value": [1, 0]}, "value": [1.5, 3.5]},
                              "gridOpacity": {"condition": {"test": "datum.value === 0 || datum.value === 800", "value": 0}, "value": 1}}},
               "color": {"field": "c", "type": "nominal", "scale": {"domain": ["a","b","c","DC","CSC","OCSC","ASC"], "range": ["#EDB120","#7E2F8E","#77AC30","#000000","#8B1A2E","#EDB120","#1D6A43"]}, "legend": null},
               "order": {"field": "v", "type": "quantitative", "sort": "descending"}}},
            {"data": {"name": "thd"}, "transform": [{"filter": "datum.p === 'ii'"}], "mark": {"type": "text", "align": "right", "baseline": "middle", "fontSize": 20, "fontWeight": "bold"},
             "encoding": {"x": {"datum": 37.15, "axis": null}, "y": {"field": "y", "type": "quantitative"}, "text": {"field": "label"},
               "color": {"field": "c", "type": "nominal", "scale": {"domain": ["a","b","c","DC","CSC","OCSC","ASC"], "range": ["#EDB120","#7E2F8E","#77AC30","#000000","#8B1A2E","#EDB120","#1D6A43"]}, "legend": null}}},
            {"data": {"name": "one"}, "mark": {"type": "text", "text": "(ii)", "align": "center", "baseline": "middle", "fontSize": 19, "fontWeight": "bold"},
             "encoding": {"x": {"datum": 20.75, "axis": null}, "y": {"datum": 863}}},
            {"data": {"name": "one"}, "mark": {"type": "text", "text": "n", "align": "left", "baseline": "middle", "fontSize": 25, "fontStyle": "italic"},
             "encoding": {"x": {"datum": 9.76, "axis": null}, "y": {"datum": -189.6}}},
            {"data": {"name": "one"}, "mark": {"type": "text", "text": "- harmonic order", "align": "left", "baseline": "middle", "fontSize": 25},
             "encoding": {"x": {"datum": 12.1, "axis": null}, "y": {"datum": -189.6}}}
          ]
        },
        {
          "width": 345, "height": 215,
          "resolve": {"axis": {"x": "independent"}},
          "layer": [
            {"data": {"name": "thd"}, "transform": [{"filter": "datum.p === 'iii'"}], "mark": {"type": "bar", "orient": "horizontal", "height": 24, "fill": "white"},
             "encoding": {"x": {"datum": 24.3, "axis": null}, "x2": {"datum": 37.6}, "y": {"field": "y", "type": "quantitative"}}},
            {"data": {"name": "one"}, "mark": {"type": "point", "opacity": 0},
             "encoding": {"x": {"datum": 2, "type": "quantitative",
                                "axis": {"orient": "top", "values": [2,3,4,6,7,8,9,11,12,13,14,16,17,18,19,21,22,23,24,26,27,28,29,31,32,33,34,36,37,38,39], "labels": false, "title": null, "domain": false, "grid": true, "gridDash": [1.5, 3.5], "gridColor": "#8c8c8c", "tickSize": -3}},
                          "y": {"datum": 0}}},
            {"data": {"name": "bars"}, "transform": [{"filter": "datum.p === 'iii'"}], "mark": {"type": "bar", "width": 13.4, "stroke": "#000", "strokeWidth": 1},
             "encoding": {
               "x": {"field": "n", "type": "quantitative", "scale": {"domain": [1.5, 40], "nice": false, "zero": false, "padding": 0},
                     "axis": {"orient": "bottom", "values": [5,10,15,20,25,30,35,40], "labelPadding": 14, "labelOverlap": false, "title": null, "domain": false, "grid": true, "tickSize": -5, "gridColor": "#b4b4b4",
                              "gridOpacity": {"condition": {"test": "datum.value === 40", "value": 0}, "value": 1}}},
               "y": {"field": "v", "type": "quantitative", "stack": null, "scale": {"domain": [0, 800], "nice": false, "padding": 0},
                     "axis": {"values": [0,50,100,150,200,250,300,350,400,450,500,550,600,650,700,750,800], "labels": false, "labelOverlap": false, "title": null, "domain": false, "grid": true, "tickSize": -4,
                              "gridColor": {"condition": {"test": "datum.value % 200 === 0", "value": "#b4b4b4"}, "value": "#8c8c8c"},
                              "gridDash": {"condition": {"test": "datum.value % 200 === 0", "value": [1, 0]}, "value": [1.5, 3.5]},
                              "gridOpacity": {"condition": {"test": "datum.value === 0 || datum.value === 800", "value": 0}, "value": 1}}},
               "color": {"field": "c", "type": "nominal", "scale": {"domain": ["a","b","c","DC","CSC","OCSC","ASC"], "range": ["#EDB120","#7E2F8E","#77AC30","#000000","#8B1A2E","#EDB120","#1D6A43"]}, "legend": null},
               "order": {"field": "v", "type": "quantitative", "sort": "descending"}}},
            {"data": {"name": "thd"}, "transform": [{"filter": "datum.p === 'iii'"}], "mark": {"type": "text", "align": "right", "baseline": "middle", "fontSize": 20, "fontWeight": "bold"},
             "encoding": {"x": {"datum": 37.15, "axis": null}, "y": {"field": "y", "type": "quantitative"}, "text": {"field": "label"},
               "color": {"field": "c", "type": "nominal", "scale": {"domain": ["a","b","c","DC","CSC","OCSC","ASC"], "range": ["#EDB120","#7E2F8E","#77AC30","#000000","#8B1A2E","#EDB120","#1D6A43"]}, "legend": null}}},
            {"data": {"name": "one"}, "mark": {"type": "text", "text": "(iii)", "align": "center", "baseline": "middle", "fontSize": 19, "fontWeight": "bold"},
             "encoding": {"x": {"datum": 20.75, "axis": null}, "y": {"datum": 863}}},
            {"data": {"name": "one"}, "mark": {"type": "text", "text": "n", "align": "left", "baseline": "middle", "fontSize": 25, "fontStyle": "italic"},
             "encoding": {"x": {"datum": 9.76, "axis": null}, "y": {"datum": -189.6}}},
            {"data": {"name": "one"}, "mark": {"type": "text", "text": "- harmonic order", "align": "left", "baseline": "middle", "fontSize": 25},
             "encoding": {"x": {"datum": 12.1, "axis": null}, "y": {"datum": -189.6}}}
          ]
        }
      ]
    }
  ]
}
